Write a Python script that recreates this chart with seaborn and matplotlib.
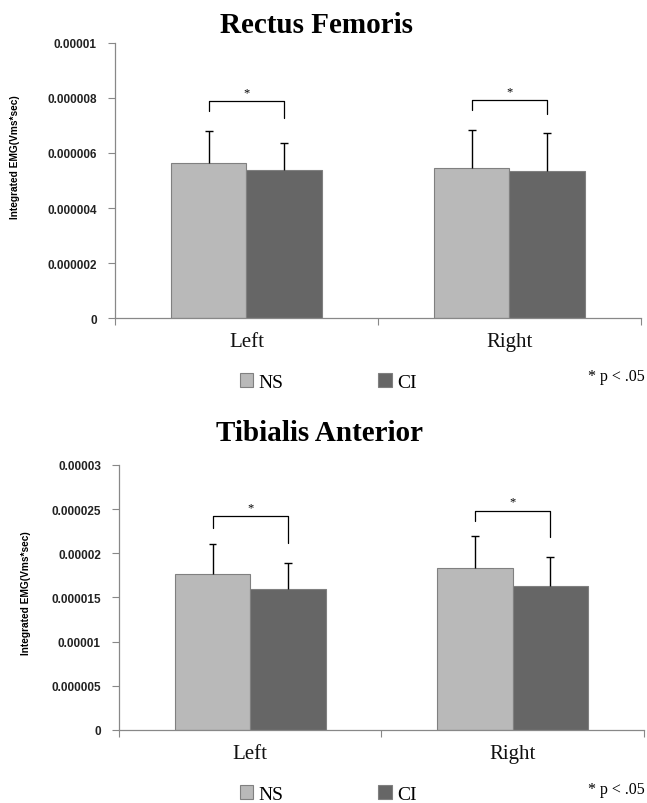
import numpy as np
import pandas as pd
import seaborn as sns
import matplotlib.pyplot as plt
from matplotlib.ticker import FixedLocator

# data
sides = ['Left', 'Right']
groups = ['NS', 'CI']

rf_ns = [5.65e-6, 5.45e-6]
rf_ci = [5.39e-6, 5.35e-6]
rf_ns_err = [1.15e-6, 1.40e-6]
rf_ci_err = [0.98e-6, 1.36e-6]
rf_ticks = [0, 0.000002, 0.000004, 0.000006, 0.000008, 0.00001]
rf_tick_labels = ['0', '0.000002', '0.000004', '0.000006', '0.000008', '0.00001']
# bracket: top, NS leg end, CI leg end (per side)
rf_br_top = [7.88e-6, 7.92e-6]
rf_br_ns = [7.51e-6, 7.55e-6]
rf_br_ci = [7.27e-6, 7.40e-6]

ta_ns = [17.7e-6, 18.35e-6]
ta_ci = [15.95e-6, 16.25e-6]
ta_ns_err = [3.35e-6, 3.6e-6]
ta_ci_err = [2.9e-6, 3.35e-6]
ta_ticks = [0, 0.000005, 0.00001, 0.000015, 0.00002, 0.000025, 0.00003]
ta_tick_labels = ['0', '0.000005', '0.00001', '0.000015', '0.00002', '0.000025', '0.00003']
ta_br_top = [24.2e-6, 24.8e-6]
ta_br_ns = [22.9e-6, 23.7e-6]
ta_br_ci = [21.2e-6, 21.8e-6]

colors = {'NS': '#b9b9b9', 'CI': '#666666'}

sns.set_theme(style='white')
plt.rcParams['font.family'] = ['Liberation Serif', 'DejaVu Serif']
plt.rcParams['text.color'] = 'black'
plt.rcParams['axes.labelcolor'] = 'black'
plt.rcParams['xtick.color'] = '#111111'

fig = plt.figure(figsize=(6.47, 8.04), dpi=100)
ax1 = fig.add_axes([0.1777, 0.6032, 0.813, 0.3421])
ax2 = fig.add_axes([0.1839, 0.0908, 0.8114, 0.3296])


def draw_panel(ax, ns, ci, ns_err, ci_err, ticks, tick_labels, ymax,
               br_top, br_ns, br_ci, ylab_xy, legend_y):
    df = pd.DataFrame({
        'side': sides * 2,
        'group': ['NS'] * 2 + ['CI'] * 2,
        'value': ns + ci,
    })
    sns.barplot(data=df, x='side', y='value', hue='group', hue_order=groups,
                order=sides, palette=colors, width=0.574, errorbar=None,
                edgecolor='#808080', linewidth=0.8, ax=ax, legend=True)

    # bar centres from the drawn patches: first NS bars, then CI bars
    patches = [p for p in ax.patches if p.get_height() > 0][:4]
    xs = [p.get_x() + p.get_width() / 2 for p in patches]
    x_ns, x_ci = xs[:2], xs[2:]

    # upward-only error bars with a cap on top
    cap = 0.015
    for x, v, e in zip(x_ns + x_ci, ns + ci, ns_err + ci_err):
        ax.vlines(x, v, v + e, color='black', lw=1.0, zorder=3)
        ax.hlines(v + e, x - cap, x + cap, color='black', lw=1.0, zorder=3)

    # significance brackets
    for i in range(2):
        ax.plot([x_ns[i], x_ns[i], x_ci[i], x_ci[i]],
                [br_ns[i], br_top[i], br_top[i], br_ci[i]],
                color='black', lw=0.9)
        ax.text((x_ns[i] + x_ci[i]) / 2, br_top[i] + ymax * 0.012, '*',
                ha='center', va='bottom', fontsize=9)

    ax.set_xlim(-0.5, 1.5)
    ax.set_ylim(0, ymax)
    ax.yaxis.set_major_locator(FixedLocator(ticks))
    ax.set_yticklabels(tick_labels)
    for lab in ax.get_yticklabels():
        lab.set_family(['Liberation Sans', 'DejaVu Sans'])
        lab.set_fontweight('bold')
        lab.set_fontsize(8.5)
        lab.set_color('#222222')
    ax.tick_params(axis='y', direction='out', length=5, width=0.8,
                   color='#888888', left=True, pad=8)

    # category axis: ticks at the boundaries only
    ax.xaxis.set_minor_locator(FixedLocator([-0.5, 0.5, 1.5]))
    ax.tick_params(axis='x', which='major', length=0, labelsize=15, pad=10,
                   labelcolor='#111111')
    ax.tick_params(axis='x', which='minor', direction='out', length=5,
                   width=0.8, color='#888888', bottom=True)
    ax.set_xlabel('')
    ax.set_ylabel('Integrated EMG(Vms*sec)', family=['Liberation Sans', 'DejaVu Sans'],
                  fontweight='bold', fontsize=7.3)
    ax.yaxis.set_label_coords(*ylab_xy)

    for s in ['top', 'right']:
        ax.spines[s].set_visible(False)
    for s in ['left', 'bottom']:
        ax.spines[s].set_color('#888888')
        ax.spines[s].set_linewidth(0.9)

    handles, labels = ax.get_legend_handles_labels()
    fig.legend(handles, labels, loc='center', bbox_to_anchor=(0.507, legend_y),
               ncol=2, frameon=False, fontsize=14, handlelength=0.7,
               handleheight=0.7, handletextpad=0.25, columnspacing=4.9)
    ax.get_legend().remove()


draw_panel(ax1, rf_ns, rf_ci, rf_ns_err, rf_ci_err, rf_ticks, rf_tick_labels,
           0.00001, rf_br_top, rf_br_ns, rf_br_ci, (-0.18, 0.59), 0.5236)
draw_panel(ax2, ta_ns, ta_ci, ta_ns_err, ta_ci_err, ta_ticks, ta_tick_labels,
           0.00003, ta_br_top, ta_br_ns, ta_br_ci, (-0.168, 0.52), 0.011)

fig.text(0.489, 0.968, 'Rectus Femoris', fontsize=21, fontweight='bold',
         ha='center', va='center')
fig.text(0.494, 0.461, 'Tibialis Anterior', fontsize=21, fontweight='bold',
         ha='center', va='center')

fig.text(0.952, 0.531, '* p < .05', fontsize=11.5, ha='center', va='center')
fig.text(0.952, 0.017, '* p < .05', fontsize=11.5, ha='center', va='center')

fig.savefig('out.png', dpi=100)
